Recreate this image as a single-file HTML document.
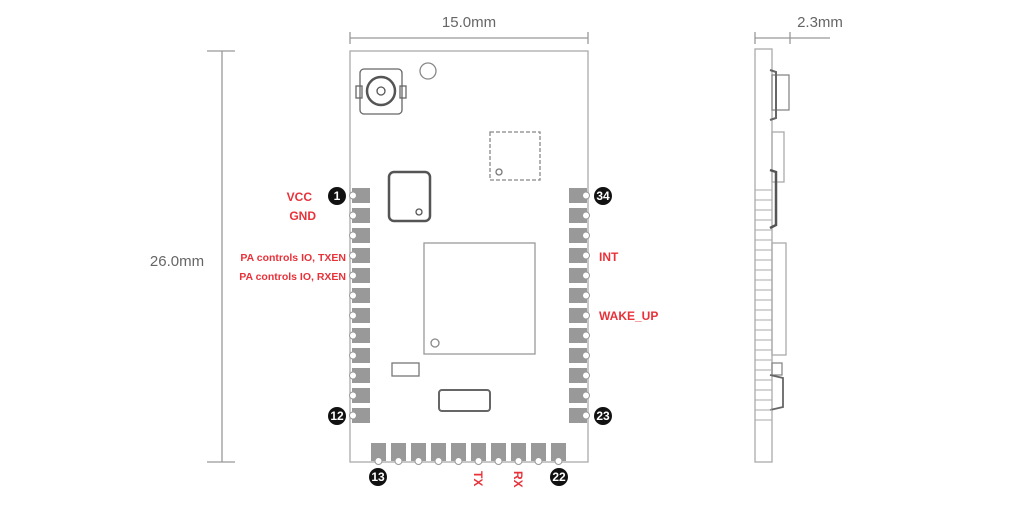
<!DOCTYPE html>
<html><head><meta charset="utf-8"><style>
html,body{margin:0;padding:0;background:#fff;}
svg{display:block}
.d{font-family:"Liberation Sans",sans-serif;fill:#666;font-size:15px}
.r{font-family:"Liberation Sans",sans-serif;fill:#e8323a;font-weight:bold;font-size:12px}
.n{font-family:"Liberation Sans",sans-serif;fill:#fff;font-weight:bold;font-size:12px}
</style></head><body>
<svg width="1024" height="505" viewBox="0 0 1024 505" xmlns="http://www.w3.org/2000/svg">
<g stroke="#999" stroke-width="1.3" fill="none">
<!-- top dim -->
<line x1="350" y1="38" x2="588" y2="38"/><line x1="350" y1="32" x2="350" y2="44"/><line x1="588" y1="32" x2="588" y2="44"/>
<!-- left dim -->
<line x1="222" y1="51" x2="222" y2="462"/><line x1="207" y1="51" x2="235" y2="51"/><line x1="207" y1="462" x2="235" y2="462"/>
<!-- side dim -->
<line x1="755" y1="38" x2="830" y2="38"/><line x1="755" y1="32" x2="755" y2="44"/><line x1="790" y1="32" x2="790" y2="44"/>
<!-- board -->
<rect x="350" y="51" width="238" height="411" stroke="#aaa"/>
<!-- antenna connector -->
<rect x="360" y="69" width="42" height="45" rx="4" stroke="#666"/>
<rect x="356" y="86" width="6" height="12" stroke="#666"/>
<rect x="400" y="86" width="6" height="12" stroke="#666"/>
<circle cx="381" cy="91" r="14" stroke="#555" stroke-width="2.5"/>
<circle cx="381" cy="91" r="4" stroke="#555"/>
<circle cx="428" cy="71" r="8" stroke="#888"/>
<rect x="490" y="132" width="50" height="48" stroke="#888" stroke-dasharray="4 2"/>
<circle cx="499" cy="172" r="3" stroke="#777"/>
<rect x="389" y="172" width="41" height="49" rx="5" stroke="#555" stroke-width="2.5"/>
<circle cx="419" cy="212" r="3" stroke="#555"/>
<rect x="424" y="243" width="111" height="111" stroke="#999"/>
<circle cx="435" cy="343" r="4" stroke="#888"/>
<rect x="392" y="363" width="27" height="13" stroke="#777"/>
<rect x="439" y="390" width="51" height="21" rx="3" stroke="#666" stroke-width="2"/>
<!-- side view -->
<rect x="755" y="49" width="17" height="413" stroke="#aaa"/>
<rect x="772" y="75" width="17" height="35" stroke="#888"/>
<path d="M770 70 L776 72 L776 118 L770 120" stroke="#666" stroke-width="2"/>
<rect x="772" y="132" width="12" height="50" stroke="#aaa"/>
<path d="M770 170 L776 172 L776 225 L770 228" stroke="#555" stroke-width="2.5"/>
<rect x="772" y="243" width="14" height="112" stroke="#aaa"/>
<rect x="772" y="363" width="10" height="12" stroke="#888"/>
<path d="M770 375 L783 378 L783 407 L770 410" stroke="#666" stroke-width="1.8"/>
</g>
<g stroke="#aaa" stroke-width="1">
<line x1="755" y1="190" x2="772" y2="190"/><line x1="755" y1="200" x2="772" y2="200"/><line x1="755" y1="210" x2="772" y2="210"/><line x1="755" y1="220" x2="772" y2="220"/><line x1="755" y1="230" x2="772" y2="230"/><line x1="755" y1="240" x2="772" y2="240"/><line x1="755" y1="250" x2="772" y2="250"/><line x1="755" y1="260" x2="772" y2="260"/><line x1="755" y1="270" x2="772" y2="270"/><line x1="755" y1="280" x2="772" y2="280"/><line x1="755" y1="290" x2="772" y2="290"/><line x1="755" y1="300" x2="772" y2="300"/><line x1="755" y1="310" x2="772" y2="310"/><line x1="755" y1="320" x2="772" y2="320"/><line x1="755" y1="330" x2="772" y2="330"/><line x1="755" y1="340" x2="772" y2="340"/><line x1="755" y1="350" x2="772" y2="350"/><line x1="755" y1="360" x2="772" y2="360"/><line x1="755" y1="370" x2="772" y2="370"/><line x1="755" y1="380" x2="772" y2="380"/><line x1="755" y1="390" x2="772" y2="390"/><line x1="755" y1="400" x2="772" y2="400"/><line x1="755" y1="410" x2="772" y2="410"/><line x1="755" y1="420" x2="772" y2="420"/>
</g>
<!-- pads -->
<g fill="#999" id="lp">
<rect x="352" y="188" width="18" height="15"/><rect x="352" y="208" width="18" height="15"/><rect x="352" y="228" width="18" height="15"/><rect x="352" y="248" width="18" height="15"/><rect x="352" y="268" width="18" height="15"/><rect x="352" y="288" width="18" height="15"/><rect x="352" y="308" width="18" height="15"/><rect x="352" y="328" width="18" height="15"/><rect x="352" y="348" width="18" height="15"/><rect x="352" y="368" width="18" height="15"/><rect x="352" y="388" width="18" height="15"/><rect x="352" y="408" width="18" height="15"/>
</g>
<g fill="#999">
<rect x="569" y="188" width="18" height="15"/><rect x="569" y="208" width="18" height="15"/><rect x="569" y="228" width="18" height="15"/><rect x="569" y="248" width="18" height="15"/><rect x="569" y="268" width="18" height="15"/><rect x="569" y="288" width="18" height="15"/><rect x="569" y="308" width="18" height="15"/><rect x="569" y="328" width="18" height="15"/><rect x="569" y="348" width="18" height="15"/><rect x="569" y="368" width="18" height="15"/><rect x="569" y="388" width="18" height="15"/><rect x="569" y="408" width="18" height="15"/>
<rect x="371" y="443" width="15" height="18"/><rect x="391" y="443" width="15" height="18"/><rect x="411" y="443" width="15" height="18"/><rect x="431" y="443" width="15" height="18"/><rect x="451" y="443" width="15" height="18"/><rect x="471" y="443" width="15" height="18"/><rect x="491" y="443" width="15" height="18"/><rect x="511" y="443" width="15" height="18"/><rect x="531" y="443" width="15" height="18"/><rect x="551" y="443" width="15" height="18"/>
</g>
<g fill="#fff" stroke="#999" stroke-width="1">
<circle cx="353" cy="195.5" r="3.5"/><circle cx="353" cy="215.5" r="3.5"/><circle cx="353" cy="235.5" r="3.5"/><circle cx="353" cy="255.5" r="3.5"/><circle cx="353" cy="275.5" r="3.5"/><circle cx="353" cy="295.5" r="3.5"/><circle cx="353" cy="315.5" r="3.5"/><circle cx="353" cy="335.5" r="3.5"/><circle cx="353" cy="355.5" r="3.5"/><circle cx="353" cy="375.5" r="3.5"/><circle cx="353" cy="395.5" r="3.5"/><circle cx="353" cy="415.5" r="3.5"/>
<circle cx="586" cy="195.5" r="3.5"/><circle cx="586" cy="215.5" r="3.5"/><circle cx="586" cy="235.5" r="3.5"/><circle cx="586" cy="255.5" r="3.5"/><circle cx="586" cy="275.5" r="3.5"/><circle cx="586" cy="295.5" r="3.5"/><circle cx="586" cy="315.5" r="3.5"/><circle cx="586" cy="335.5" r="3.5"/><circle cx="586" cy="355.5" r="3.5"/><circle cx="586" cy="375.5" r="3.5"/><circle cx="586" cy="395.5" r="3.5"/><circle cx="586" cy="415.5" r="3.5"/>
<circle cx="378.5" cy="461" r="3.5"/><circle cx="398.5" cy="461" r="3.5"/><circle cx="418.5" cy="461" r="3.5"/><circle cx="438.5" cy="461" r="3.5"/><circle cx="458.5" cy="461" r="3.5"/><circle cx="478.5" cy="461" r="3.5"/><circle cx="498.5" cy="461" r="3.5"/><circle cx="518.5" cy="461" r="3.5"/><circle cx="538.5" cy="461" r="3.5"/><circle cx="558.5" cy="461" r="3.5"/>
</g>
<!-- pin numbers -->
<g fill="#111">
<circle cx="337" cy="196" r="9"/><circle cx="603" cy="196" r="9"/><circle cx="337" cy="416" r="9"/><circle cx="603" cy="416" r="9"/><circle cx="378" cy="477" r="9"/><circle cx="559" cy="477" r="9"/>
</g>
<g class="n" text-anchor="middle">
<text x="337" y="200" class="n">1</text><text x="603" y="200" class="n">34</text><text x="337" y="420" class="n">12</text><text x="603" y="420" class="n">23</text><text x="378" y="481" class="n">13</text><text x="559" y="481" class="n">22</text>
</g>
<!-- dims text -->
<text class="d" x="469" y="27" text-anchor="middle">15.0mm</text>
<text class="d" x="177" y="266" text-anchor="middle">26.0mm</text>
<text class="d" x="820" y="27" text-anchor="middle">2.3mm</text>
<!-- red labels -->
<text class="r" x="312" y="201" text-anchor="end">VCC</text>
<text class="r" x="316" y="220" text-anchor="end">GND</text>
<text class="r" x="346" y="261" text-anchor="end" style="font-size:10.5px">PA controls IO, TXEN</text>
<text class="r" x="346" y="280" text-anchor="end" style="font-size:10.5px">PA controls IO, RXEN</text>
<text class="r" x="599" y="261">INT</text>
<text class="r" x="599" y="320">WAKE_UP</text>
<text class="r" transform="translate(474,471) rotate(90)">TX</text>
<text class="r" transform="translate(514,471) rotate(90)">RX</text>
</svg>
</body></html>
